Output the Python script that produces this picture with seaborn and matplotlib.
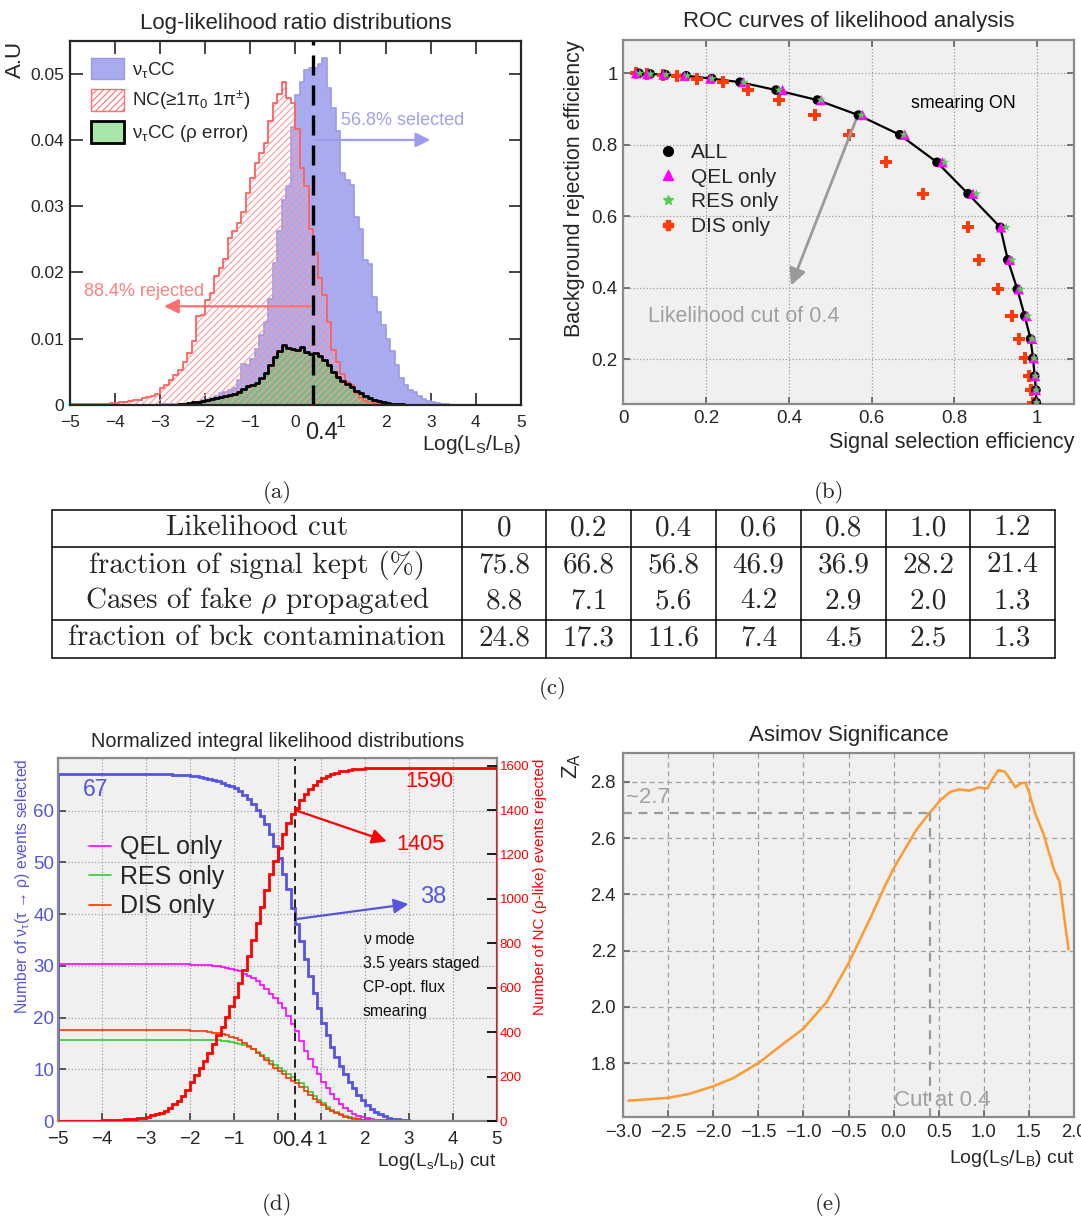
import numpy as np
import matplotlib
matplotlib.use("Agg")
import matplotlib.pyplot as plt
import seaborn as sns
from matplotlib.patches import Patch
from matplotlib.lines import Line2D
from matplotlib.ticker import FuncFormatter

W, H = 1081, 1220

# ---------------- (a) log-likelihood ratio, 100 bins of 0.1 from -5 to 5
llr_edges = np.linspace(-5, 5, 101)
nutau_cc = [
    0, 0, 0, 0, 0, 0, 0, 0, 0, 0,
    0, 0, 0, 0, 0, 0, 0, 0, 0, 0,
    0.0001, 0.0001, 0.0001, 0.0001, 0.0002, 0.0002, 0.0003, 0.0004, 0.0005, 0.0007,
    0.0008, 0.0010, 0.0013, 0.0018, 0.0020, 0.0023, 0.0026, 0.0038, 0.0062, 0.0060,
    0.0070, 0.0085, 0.0105, 0.0125, 0.0160, 0.0215, 0.0262, 0.0310, 0.0330, 0.0420,
    0.0468, 0.0488, 0.0505, 0.0508, 0.0508, 0.0514, 0.0524, 0.0478, 0.0448, 0.0413,
    0.0350, 0.0340, 0.0332, 0.0284, 0.0266, 0.0219, 0.0213, 0.0163, 0.0140, 0.0120,
    0.0100, 0.0082, 0.0060, 0.0040, 0.0030, 0.0022, 0.0019, 0.0014, 0.0009, 0.0006,
    0.0004, 0.0003, 0.0002, 0.0001, 0, 0, 0, 0, 0, 0,
    0, 0, 0, 0, 0, 0, 0, 0, 0, 0,
]
nc_bkg = [
    0.0001, 0.0001, 0.0001, 0.0001, 0.0001, 0.0002, 0.0002, 0.0002, 0.0002, 0.0003,
    0.0003, 0.0004, 0.0005, 0.0006, 0.0007, 0.0008, 0.0010, 0.0012, 0.0014, 0.0017,
    0.0025, 0.0030, 0.0038, 0.0045, 0.0053, 0.0065, 0.0078, 0.0097, 0.0134, 0.0136,
    0.0158, 0.0169, 0.0194, 0.0207, 0.0220, 0.0252, 0.0262, 0.0275, 0.0291, 0.0320,
    0.0343, 0.0365, 0.0380, 0.0396, 0.0428, 0.0456, 0.0470, 0.0487, 0.0464, 0.0456,
    0.0416, 0.0358, 0.0330, 0.0265, 0.0229, 0.0191, 0.0166, 0.0125, 0.0083, 0.0065,
    0.0047, 0.0035, 0.0030, 0.0018, 0.0010, 0.0006, 0.0004, 0.0003, 0.0002, 0.0001,
    0.0001, 0.0001, 0.00005, 0, 0, 0, 0, 0, 0, 0,
    0, 0, 0, 0, 0, 0, 0, 0, 0, 0,
    0, 0, 0, 0, 0, 0, 0, 0, 0, 0,
]
rho_err = [
    0, 0, 0, 0, 0, 0, 0, 0, 0, 0,
    0, 0, 0, 0, 0, 0, 0, 0, 0, 0,
    0, 0, 0, 0, 0.0001, 0.0002, 0.0003, 0.0004, 0.0005, 0.0006,
    0.0008, 0.0009, 0.0010, 0.0012, 0.0014, 0.0015, 0.0017, 0.0019, 0.0024, 0.0028,
    0.0030, 0.0033, 0.0040, 0.0048, 0.0060, 0.0072, 0.0082, 0.0090, 0.0086, 0.0085,
    0.0083, 0.0087, 0.0080, 0.0077, 0.0078, 0.0074, 0.0068, 0.0060, 0.0050, 0.0042,
    0.0036, 0.0031, 0.0027, 0.0021, 0.0018, 0.0013, 0.0010, 0.0008, 0.0006, 0.0004,
    0.0003, 0.0002, 0.0002, 0.0001, 0, 0, 0, 0, 0, 0,
    0, 0, 0, 0, 0, 0, 0, 0, 0, 0,
    0, 0, 0, 0, 0, 0, 0, 0, 0, 0,
]
cut_value = 0.4
selected_label = "56.8% selected"
rejected_label = "88.4% rejected"

# ---------------- (b) ROC points, cuts 2.0 down to -2.0
roc_bkg_rej = [1.000, 0.998, 0.996, 0.993, 0.985, 0.975, 0.953, 0.925, 0.883, 0.828, 0.751,
               0.663, 0.569, 0.478, 0.396, 0.321, 0.257, 0.203, 0.153, 0.114, 0.079]
roc_all = [0.038, 0.065, 0.102, 0.152, 0.214, 0.282, 0.369, 0.469, 0.568, 0.668, 0.758,
           0.833, 0.911, 0.929, 0.952, 0.970, 0.984, 0.990, 0.994, 0.997, 0.998]
roc_qel = [0.031, 0.058, 0.097, 0.148, 0.210, 0.290, 0.385, 0.478, 0.578, 0.680, 0.771,
           0.845, 0.913, 0.934, 0.956, 0.975, 0.988, 0.992, 0.995, 0.997, 0.998]
roc_res = [0.040, 0.066, 0.104, 0.155, 0.215, 0.292, 0.376, 0.478, 0.575, 0.678, 0.777,
           0.853, 0.925, 0.940, 0.960, 0.978, 0.988, 0.993, 0.996, 0.998, 0.999]
roc_dis = [0.030, 0.058, 0.095, 0.129, 0.177, 0.240, 0.302, 0.377, 0.462, 0.545, 0.635,
           0.723, 0.833, 0.860, 0.906, 0.938, 0.957, 0.970, 0.980, 0.986, 0.989]

# ---------------- (c) table
table_cuts = ["0", "0.2", "0.4", "0.6", "0.8", "1.0", "1.2"]
signal_kept = [75.8, 66.8, 56.8, 46.9, 36.9, 28.2, 21.4]
fake_rho = [8.8, 7.1, 5.6, 4.2, 2.9, 2.0, 1.3]
bck_contam = [24.8, 17.3, 11.6, 7.4, 4.5, 2.5, 1.3]

# ---------------- (d) integral distributions (same 0.1 bins)
cut_edges = np.linspace(-5, 5, 101)
nutau_selected = [
    67.0, 67.0, 67.0, 67.0, 67.0, 67.0, 67.0, 67.0, 67.0, 67.0,
    67.0, 67.0, 67.0, 67.0, 67.0, 67.0, 67.0, 67.0, 67.0, 67.0,
    67.0, 67.0, 67.0, 67.0, 67.0, 67.0, 66.9, 66.9, 66.8, 66.8,
    66.7, 66.6, 66.5, 66.3, 66.1, 65.9, 65.7, 65.4, 65.0, 64.8,
    64.4, 63.8, 63.1, 62.3, 61.3, 60.2, 58.9, 57.4, 55.5, 53.2,
    50.8, 47.8, 44.8, 41.2, 38.1, 34.7, 31.4, 28.0, 24.7, 21.8,
    18.9, 16.6, 14.3, 12.3, 10.6, 9.0, 7.6, 6.3, 5.1, 4.0,
    3.1, 2.4, 1.8, 1.3, 0.9, 0.6, 0.4, 0.3, 0.2, 0.1,
    0.05, 0, 0, 0, 0, 0, 0, 0, 0, 0,
    0, 0, 0, 0, 0, 0, 0, 0, 0, 0,
]
nc_rejected = [
    0, 0, 0, 0, 0, 1, 1, 1, 2, 2,
    3, 3, 4, 5, 6, 7, 9, 11, 13, 15,
    20, 25, 31, 38, 47, 58, 75, 92, 113, 140,
    175, 205, 238, 270, 305, 345, 385, 425, 470, 520,
    560, 620, 680, 745, 815, 890, 965, 1040, 1110, 1170,
    1230, 1290, 1340, 1380, 1410, 1445, 1472, 1495, 1515, 1530,
    1543, 1553, 1561, 1568, 1574, 1578, 1581, 1584, 1586, 1587,
    1588, 1589, 1589, 1590, 1590, 1590, 1590, 1590, 1590, 1590,
    1590, 1590, 1590, 1590, 1590, 1590, 1590, 1590, 1590, 1590,
    1590, 1590, 1590, 1590, 1590, 1590, 1590, 1590, 1590, 1590,
]
qel_selected = [
    30.3, 30.3, 30.3, 30.3, 30.3, 30.3, 30.3, 30.3, 30.3, 30.3,
    30.3, 30.3, 30.3, 30.3, 30.3, 30.3, 30.3, 30.3, 30.3, 30.3,
    30.3, 30.3, 30.3, 30.3, 30.3, 30.3, 30.3, 30.3, 30.3, 30.3,
    30.2, 30.2, 30.2, 30.1, 30.1, 30.0, 29.9, 29.8, 29.6, 29.4,
    29.2, 28.9, 28.5, 28.1, 27.6, 27.0, 26.2, 25.5, 24.6, 23.8,
    22.8, 21.8, 20.3, 18.8, 17.3, 15.4, 13.6, 12.0, 10.4, 9.0,
    7.5, 6.4, 5.2, 4.2, 3.3, 2.6, 1.9, 1.4, 1.0, 0.7,
    0.5, 0.35, 0.25, 0.15, 0.1, 0.05, 0, 0, 0, 0,
    0, 0, 0, 0, 0, 0, 0, 0, 0, 0,
    0, 0, 0, 0, 0, 0, 0, 0, 0, 0,
]
res_selected = [
    15.7, 15.7, 15.7, 15.7, 15.7, 15.7, 15.7, 15.7, 15.7, 15.7,
    15.7, 15.7, 15.7, 15.7, 15.7, 15.7, 15.7, 15.7, 15.7, 15.7,
    15.7, 15.7, 15.7, 15.7, 15.7, 15.7, 15.7, 15.7, 15.7, 15.7,
    15.7, 15.7, 15.7, 15.7, 15.7, 15.6, 15.6, 15.5, 15.4, 15.3,
    15.1, 14.9, 14.6, 14.3, 13.9, 13.4, 12.8, 12.2, 11.6, 10.9,
    10.3, 9.7, 9.1, 8.6, 8.0, 7.3, 6.5, 5.7, 4.9, 4.1,
    3.4, 2.8, 2.2, 1.7, 1.3, 1.0, 0.7, 0.5, 0.35, 0.25,
    0.15, 0.1, 0.05, 0, 0, 0, 0, 0, 0, 0,
    0, 0, 0, 0, 0, 0, 0, 0, 0, 0,
    0, 0, 0, 0, 0, 0, 0, 0, 0, 0,
]
dis_selected = [
    17.5, 17.5, 17.5, 17.5, 17.5, 17.5, 17.5, 17.5, 17.5, 17.5,
    17.5, 17.5, 17.5, 17.5, 17.5, 17.5, 17.5, 17.5, 17.5, 17.5,
    17.5, 17.5, 17.5, 17.5, 17.5, 17.5, 17.5, 17.5, 17.5, 17.5,
    17.4, 17.4, 17.3, 17.3, 17.2, 17.1, 17.0, 16.8, 16.6, 16.3,
    16.0, 15.6, 15.1, 14.5, 13.9, 13.2, 12.5, 11.8, 11.0, 10.2,
    9.6, 9.0, 8.4, 7.8, 7.3, 6.6, 5.8, 5.0, 4.3, 3.6,
    3.0, 2.4, 1.9, 1.5, 1.1, 0.8, 0.6, 0.4, 0.3, 0.2,
    0.1, 0.05, 0, 0, 0, 0, 0, 0, 0, 0,
    0, 0, 0, 0, 0, 0, 0, 0, 0, 0,
    0, 0, 0, 0, 0, 0, 0, 0, 0, 0,
]
nutau_total, nutau_at_cut = 67, 38
nc_total, nc_at_cut = 1590, 1405
info_lines = ["ν mode", "3.5 years staged", "CP-opt. flux", "smearing"]

# ---------------- (e) Asimov significance
za_cut = [-2.94, -2.5, -2.27, -2.0, -1.78, -1.5, -1.24, -1.0, -0.74, -0.5, -0.25, -0.1,
          0.0, 0.13, 0.25, 0.38, 0.52, 0.63, 0.73, 0.84, 0.94, 1.04, 1.09, 1.16, 1.23,
          1.28, 1.35, 1.41, 1.46, 1.5, 1.57, 1.66, 1.78, 1.84, 1.89, 1.94]
za_val = [1.667, 1.677, 1.691, 1.718, 1.747, 1.800, 1.865, 1.923, 2.018, 2.155, 2.321, 2.427,
          2.492, 2.563, 2.628, 2.682, 2.735, 2.764, 2.773, 2.768, 2.780, 2.776, 2.806, 2.841,
          2.836, 2.815, 2.780, 2.794, 2.797, 2.764, 2.687, 2.616, 2.486, 2.445, 2.321, 2.204]
za_at_cut = 2.69

# ---------------- style
sns.set_theme(style="ticks")
plt.rcParams["font.family"] = ["Liberation Sans", "DejaVu Sans"]
plt.rcParams["mathtext.fontset"] = "custom"
plt.rcParams["mathtext.rm"] = "Liberation Sans"
plt.rcParams["mathtext.it"] = "Liberation Sans:italic"
plt.rcParams["mathtext.bf"] = "Liberation Sans:bold"
plt.rcParams["hatch.linewidth"] = 0.8
plt.rcParams["xtick.direction"] = "in"
plt.rcParams["ytick.direction"] = "in"

fig = plt.figure(figsize=(W / 100, H / 100), dpi=100)


def add_ax(left, top, right, bottom):
    return fig.add_axes([left / W, 1 - bottom / H, (right - left) / W, (bottom - top) / H])


def gray_frame(ax, dashed=False):
    ax.set_facecolor("#f0f0f0")
    for s in ax.spines.values():
        s.set_color("#8a8a8a")
        s.set_linewidth(1.6)
    ls = (0, (4, 3)) if dashed else ":"
    ax.grid(True, ls=ls, color="#a0a0a0", lw=0.9)
    ax.set_axisbelow(True)


gfmt = FuncFormatter(lambda v, p: "0" if v == 0 else f"{v:g}".replace("-", "\u2212"))

# ================= (a)
ax = add_ax(69.7, 41.2, 521, 405)
centers = ((llr_edges[:-1] + llr_edges[1:]) / 2).tolist()
common = dict(x=centers, bins=llr_edges.tolist(), element="step", ax=ax)
sns.histplot(weights=nutau_cc, fill=True, color="#aaaaee", facecolor="#aaaaee",
             edgecolor="#9a9ae8", linewidth=1.2, **common)
sns.histplot(weights=rho_err, fill=True, color="#7dbb8c", facecolor="#7dbb8c",
             edgecolor="none", linewidth=0, **common)
sns.histplot(weights=nc_bkg, fill=True, color="#ff9a9a", facecolor="none",
             edgecolor="#ff9a9a", hatch="/////", linewidth=0, **common)
sns.histplot(weights=nc_bkg, fill=False, color="#ff6060", linewidth=1.3, **common)
sns.histplot(weights=rho_err, fill=False, color="black", linewidth=2.0, **common)
ax.axvline(cut_value, color="black", lw=2.4, dashes=(6, 3))
ax.set_xlim(-5, 5)
ax.set_ylim(0, 0.0549)
ax.set_xticks(range(-5, 6))
ax.set_yticks([0, 0.01, 0.02, 0.03, 0.04, 0.05])
ax.yaxis.set_major_formatter(gfmt)
ax.tick_params(top=True, right=True, length=9, width=1.2, labelsize=12.5, pad=4)
ax.tick_params(axis="x", pad=7)
for s in ax.spines.values():
    s.set_linewidth(1.6)
ax.set_xlabel("Log(L$_\\mathrm{S}$/L$_\\mathrm{B}$)", loc="right", fontsize=15, labelpad=2)
ax.set_ylabel("A.U", loc="top", fontsize=16, labelpad=3)
ax.set_title("Log-likelihood ratio distributions", fontsize=16, pad=9)
ax.annotate("0.4", xy=(cut_value, 0), xycoords=("data", "axes fraction"), xytext=(8, -28),
            textcoords="offset pixels", ha="center", va="center", fontsize=17)
ax.annotate("", xy=(3.05, 0.04), xytext=(cut_value, 0.04),
            arrowprops=dict(arrowstyle="-|>", color="#9d9df0", lw=1.6, mutation_scale=22))
ax.text(1.02, 0.0429, selected_label, color="#a0a0f0", fontsize=13, va="center")
ax.annotate("", xy=(-2.97, 0.0149), xytext=(cut_value, 0.0149),
            arrowprops=dict(arrowstyle="-|>", color="#ff7070", lw=1.6, mutation_scale=22))
ax.text(-4.68, 0.0171, rejected_label, color="#ff8080", fontsize=13, va="center")
handles = [Patch(facecolor="#aaaaee", edgecolor="#9a9ae8"),
           Patch(facecolor="white", edgecolor="#ff7070", hatch="/////"),
           Patch(facecolor="#aae6aa", edgecolor="black", lw=2)]
labels = ["ν$_{\\mathrm{τ}}$CC", "NC(≥1π$_0$ 1π$^{\\pm}$)", "ν$_{\\mathrm{τ}}$CC (ρ error)"]
ax.legend(handles, labels, loc="upper left", bbox_to_anchor=(0.03, 0.975), frameon=False,
          fontsize=13.5, handlelength=1.75, handleheight=1.4, labelspacing=0.48, borderaxespad=0,
          handletextpad=0.45)

# ================= (b)
ax = add_ax(623.3, 40, 1074, 404)
gray_frame(ax)
sns.lineplot(x=roc_all, y=roc_bkg_rej, sort=False, estimator=None, color="black", lw=1.6, ax=ax)
sns.scatterplot(x=roc_dis, y=roc_bkg_rej, marker="P", s=75, color="#ff3a0a", edgecolor="none", ax=ax, zorder=3)
sns.scatterplot(x=roc_all, y=roc_bkg_rej, marker="o", s=48, color="black", edgecolor="none", ax=ax, zorder=4)
sns.scatterplot(x=roc_qel, y=roc_bkg_rej, marker="^", s=55, color="#ff00ff", edgecolor="none", ax=ax, zorder=5)
sns.scatterplot(x=roc_res, y=roc_bkg_rej, marker="*", s=45, color="#55cc55", edgecolor="none", ax=ax, zorder=6)
ax.set_xlim(0, 1.089)
ax.set_ylim(0.075, 1.093)
ax.set_xticks([0, 0.2, 0.4, 0.6, 0.8, 1.0])
ax.set_yticks([0.2, 0.4, 0.6, 0.8, 1.0])
ax.xaxis.set_major_formatter(gfmt)
ax.yaxis.set_major_formatter(gfmt)
ax.tick_params(top=True, right=True, length=5, labelsize=13.5, pad=4, color="#666666")
ax.set_xlabel("Signal selection efficiency", loc="right", fontsize=15.5, labelpad=4)
ax.set_ylabel("Background rejection efficiency", loc="top", fontsize=15.5, labelpad=5)
ax.set_title("ROC curves of likelihood analysis", fontsize=16, pad=9)
ax.annotate("", xy=(0.403, 0.399), xytext=(0.566, 0.881),
            arrowprops=dict(arrowstyle="-|>", color="#9a9a9a", lw=2, mutation_scale=25))
ax.text(0.06, 0.321, "Likelihood cut of 0.4", color="#a0a0a0", fontsize=15.5, va="center")
ax.text(0.694, 0.916, "smearing ON", color="black", fontsize=12.8, va="center")
handles = [Line2D([], [], ls="", marker="o", color="black", ms=7),
           Line2D([], [], ls="", marker="^", color="#ff00ff", ms=7),
           Line2D([], [], ls="", marker="*", color="#55cc55", ms=7),
           Line2D([], [], ls="", marker="P", color="#ff3a0a", ms=7)]
ax.legend(handles, ["ALL", "QEL only", "RES only", "DIS only"], loc="upper left",
          bbox_to_anchor=(0.057, 0.74), frameon=False, fontsize=15, handlelength=1.0,
          handletextpad=0.6, labelspacing=0.27, borderaxespad=0)

# ================= (c) table (overlay axes in pixel units)
axt = fig.add_axes([0, 0, 1, 1])
axt.set_xlim(0, W)
axt.set_ylim(H, 0)
axt.axis("off")
col_x = [52, 462, 546, 631, 716, 801, 886, 970, 1055]
row_y = [510, 547, 620, 658]
for yy in row_y:
    axt.plot([col_x[0], col_x[-1]], [yy, yy], color="black", lw=1.1)
for xx in col_x:
    axt.plot([xx, xx], [row_y[0], row_y[-1]], color="black", lw=1.1)
tfont = dict(family="cmr10", fontsize=21, ha="center", va="center")
rows = [("Likelihood cut", table_cuts, 528),
        ("fraction of signal kept (%)", [f"{v:.1f}" for v in signal_kept], 565),
        ("Cases of fake $\\rho$ propagated", [f"{v:.1f}" for v in fake_rho], 601),
        ("fraction of bck contamination", [f"{v:.1f}" for v in bck_contam], 638)]
for label, vals, yy in rows:
    axt.text((col_x[0] + col_x[1]) / 2, yy, label, math_fontfamily="cm", **tfont)
    for i, v in enumerate(vals):
        axt.text((col_x[i + 1] + col_x[i + 2]) / 2, yy, v, **tfont)
for lab, xx, yy in [("(a)", 277, 492), ("(b)", 829, 492), ("(c)", 553, 688),
                    ("(d)", 277, 1205), ("(e)", 829, 1205)]:
    axt.text(xx, yy, lab, family="cmr10", fontsize=16.5, ha="center", va="center")

# ================= (d)
ax = add_ax(58.3, 758.3, 496.7, 1121)
gray_frame(ax)
ax.stairs(qel_selected, cut_edges, baseline=0, color="#ff00ff", lw=1.2)
ax.stairs(res_selected, cut_edges, baseline=0, color="#33cc33", lw=1.2)
ax.stairs(dis_selected, cut_edges, baseline=0, color="#ff3300", lw=1.2)
ax.stairs(nutau_selected, cut_edges, baseline=0, color="#5555dd", lw=2)
ax.axvline(cut_value, color="black", lw=1.2, dashes=(5, 3))
ax.set_xlim(-5, 5)
ax.set_ylim(0, 70.1)
ax.set_xticks(range(-5, 6))
ax.set_yticks(range(0, 61, 10))
ax.tick_params(axis="x", length=6, labelsize=13.5, pad=7, color="#444444")
ax.tick_params(axis="y", length=6, labelsize=13.5, pad=3, labelcolor="#5555dd", color="#444444")
ax.set_xlabel("Log(L$_\\mathrm{s}$/L$_\\mathrm{b}$) cut", loc="right", fontsize=13.8, labelpad=2)
ax.set_ylabel("Number of ν$_{\\mathrm{τ}}$(τ → ρ) events selected", loc="top", fontsize=11.3,
              color="#5555dd", labelpad=1)
ax.set_title("Normalized integral likelihood distributions", fontsize=14.3, pad=8)
ax.annotate("0.4", xy=(cut_value, 0), xycoords=("data", "axes fraction"), xytext=(3, -19),
            textcoords="offset pixels", ha="center", va="center", fontsize=16)
handles = [Line2D([], [], color="#ff00ff", lw=1.2), Line2D([], [], color="#33cc33", lw=1.2),
           Line2D([], [], color="#ff3300", lw=1.2)]
ax.legend(handles, ["QEL only", "RES only", "DIS only"], loc="upper left",
          bbox_to_anchor=(0.047, 0.815), frameon=False, fontsize=18, handlelength=0.9,
          handletextpad=0.35, labelspacing=0.22, borderaxespad=0)
ax.text(-4.45, 64, str(nutau_total), color="#5555dd", fontsize=16.5, va="center")
ax.text(3.25, 43.2, str(nutau_at_cut), color="#5555dd", fontsize=17, va="center")
ax.annotate("", xy=(3.05, 42.0), xytext=(cut_value, 39.0),
            arrowprops=dict(arrowstyle="-|>", color="#5555dd", lw=1.6, mutation_scale=22))
for i, line in enumerate(info_lines):
    ax.text(1.95, 35 - 4.6 * i, line, fontsize=11.3, va="center", color="#111111")

axr = ax.twinx()
axr.stairs(nc_rejected, cut_edges, baseline=0, color="#ff0000", lw=2)
axr.set_ylim(0, 1633)
axr.set_yticks(range(0, 1601, 200))
axr.tick_params(axis="y", length=7, labelsize=9.5, labelcolor="#ff0000", color="black", pad=2)
for s in axr.spines.values():
    s.set_visible(False)
axr.set_ylabel("Number of NC (ρ-like) events rejected", loc="top", fontsize=11,
               color="#ff0000", labelpad=3)
axr.text(2.92, 1527, str(nc_total), color="#ff0000", fontsize=15.7, va="center")
axr.text(2.72, 1244, str(nc_at_cut), color="#ff0000", fontsize=15.7, va="center")
axr.annotate("", xy=(2.55, 1255), xytext=(cut_value, 1400),
             arrowprops=dict(arrowstyle="-|>", color="#ff0000", lw=1.6, mutation_scale=22))

# ================= (e)
ax = add_ax(623, 753.3, 1074, 1116.7)
gray_frame(ax, dashed=True)
sns.lineplot(x=za_cut, y=za_val, sort=False, estimator=None, color="#ff9a30", lw=1.8, ax=ax)
ax.plot([-3, cut_value], [za_at_cut, za_at_cut], color="#999999", lw=1.6, dashes=(4, 3))
ax.plot([cut_value, cut_value], [1.61, za_at_cut], color="#999999", lw=1.6, dashes=(4, 3))
ax.set_xlim(-3, 2)
ax.set_ylim(1.61, 2.901)
ax.set_xticks(np.arange(-3, 2.01, 0.5))
ax.set_yticks([1.8, 2.0, 2.2, 2.4, 2.6, 2.8])
ax.xaxis.set_major_formatter(FuncFormatter(lambda v, p: f"{v:.1f}".replace("-", "\u2212")))
ax.tick_params(length=5, labelsize=13.3, pad=5, color="#666666")
ax.set_xlabel("Log(L$_\\mathrm{S}$/L$_\\mathrm{B}$) cut", loc="right", fontsize=14, labelpad=5)
ax.set_ylabel("Z$_\\mathrm{A}$", loc="top", fontsize=16, labelpad=5)
ax.set_title("Asimov Significance", fontsize=16, pad=9)
ax.text(-2.97, 2.743, "~2.7", color="#a0a0a0", fontsize=16, va="center")
ax.text(0.0, 1.666, "Cut at 0.4", color="#a0a0a0", fontsize=16, va="center")

fig.savefig("out.png", dpi=100)
